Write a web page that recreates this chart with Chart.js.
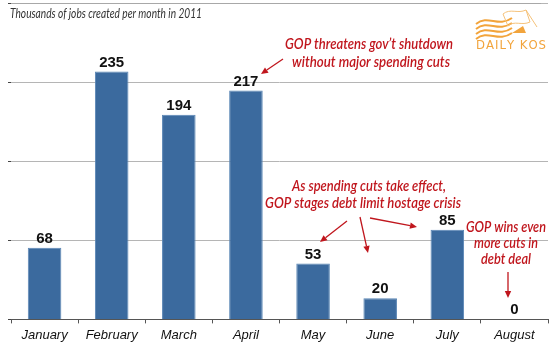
<!DOCTYPE html>
<html><head><meta charset="utf-8">
<script src="https://cdn.jsdelivr.net/npm/chart.js@4.4.1/dist/chart.umd.min.js"></script>
<style>html,body{margin:0;padding:0;background:#fff}canvas{display:block}</style>
</head><body>
<canvas id="c" width="550" height="350"></canvas>
<script>
const months = ["January","February","March","April","May","June","July","August"];
const jobs = [68, 235, 194, 217, 53, 20, 85, 0];
const yMax = 300;
const yStep = 75;
const titleText = "Thousands of jobs created per month in 2011";
const note1 = ["GOP threatens gov\u2019t shutdown", "without major spending cuts"];
const note2 = ["As spending cuts take effect,", "GOP stages debt limit hostage crisis"];
const note3 = ["GOP wins even", "more cuts in", "debt deal"];
const RED = '#c0161d';

// draw text at a given font size, squeezed horizontally to a target width
function fitText(ctx, txt, x, y, w, style, size, family, align) {
  ctx.save();
  ctx.font = style + ' ' + size + 'px ' + family;
  const nat = ctx.measureText(txt).width;
  const sx = w / nat;
  ctx.textAlign = 'left';
  let left = x;
  if (align === 'center') left = x - w / 2;
  ctx.translate(left, y);
  ctx.scale(sx, 1);
  ctx.fillText(txt, 0, 0);
  ctx.restore();
}
function arrow(ctx, x1, y1, x2, y2) {
  ctx.save();
  ctx.strokeStyle = RED; ctx.fillStyle = RED; ctx.lineWidth = 1.3;
  const a = Math.atan2(y2 - y1, x2 - x1);
  const hl = 7, hw = 3.2;
  const bx = x2 - hl * Math.cos(a), by = y2 - hl * Math.sin(a);
  ctx.beginPath(); ctx.moveTo(x1, y1); ctx.lineTo(bx, by); ctx.stroke();
  ctx.beginPath();
  ctx.moveTo(x2, y2);
  ctx.lineTo(bx + hw * Math.sin(a), by - hw * Math.cos(a));
  ctx.lineTo(bx - hw * Math.sin(a), by + hw * Math.cos(a));
  ctx.closePath(); ctx.fill();
  ctx.restore();
}

const deco = {
  id: 'deco',
  afterDraw(chart) {
    const ctx = chart.ctx;
    const meta = chart.getDatasetMeta(0);
    const ys = chart.scales.y;
    ctx.save();
    // top frame line at the scale maximum
    const ty = Math.max(2.5, Math.round(ys.getPixelForValue(yMax)) + 0.5);
    ctx.strokeStyle = '#a8a8a8'; ctx.lineWidth = 1.2;
    ctx.beginPath(); ctx.moveTo(chart.chartArea.left, ty); ctx.lineTo(541, ty); ctx.stroke();
    // value labels
    ctx.fillStyle = '#111';
    ctx.font = 'bold 15px "Liberation Sans", Arial, sans-serif';
    ctx.textAlign = 'center'; ctx.textBaseline = 'alphabetic';
    meta.data.forEach((b, i) => {
      ctx.fillText(String(jobs[i]), b.x, b.y - 5);
    });
    // title
    ctx.fillStyle = '#333';
    fitText(ctx, titleText, 10, 18, 192, 'italic', 12.5, 'Lato, sans-serif', 'left');
    // annotations
    ctx.fillStyle = RED;
    const fam = 'Lato, sans-serif';
    const st = 'italic 600';
    fitText(ctx, note1[0], 369, 49, 168, st, 15.5, fam, 'center');
    fitText(ctx, note1[1], 371, 67, 158, st, 15.5, fam, 'center');
    fitText(ctx, note2[0], 369, 191, 154, st, 15.5, fam, 'center');
    fitText(ctx, note2[1], 363, 208, 196, st, 15.5, fam, 'center');
    fitText(ctx, note3[0], 506, 232, 80, st, 15.5, fam, 'center');
    fitText(ctx, note3[1], 506, 248, 64, st, 15.5, fam, 'center');
    fitText(ctx, note3[2], 506, 264, 50, st, 15.5, fam, 'center');
    arrow(ctx, 283, 59, 261, 74);
    arrow(ctx, 347, 221, 320, 242);
    arrow(ctx, 360, 217, 368, 253);
    arrow(ctx, 370, 218, 417, 227);
    arrow(ctx, 508, 272, 508, 298);
    // logo
    ctx.strokeStyle = '#f2a43c'; ctx.lineWidth = 2;
    for (let k = 0; k < 4; k++) {
      ctx.beginPath();
      const y0 = 20 + k * 5;
      ctx.moveTo(476, y0 + 4);
      ctx.bezierCurveTo(488, y0 - 6, 498, y0 + 8, 512, y0 - 2);
      ctx.stroke();
    }
    ctx.lineWidth = 1;
    ctx.strokeStyle = '#f5c27a';
    ctx.beginPath();
    ctx.moveTo(503, 14); ctx.bezierCurveTo(510, 8, 518, 14, 526, 10);
    ctx.lineTo(530, 22); ctx.bezierCurveTo(522, 26, 514, 20, 508, 26);
    ctx.closePath(); ctx.stroke();
    ctx.beginPath(); ctx.moveTo(526, 10); ctx.lineTo(537, 27); ctx.stroke();
    ctx.fillStyle = '#f2a43c';
    ctx.beginPath(); ctx.moveTo(512, 33); ctx.lineTo(523, 26); ctx.lineTo(526, 33); ctx.closePath(); ctx.fill();
    ctx.textBaseline = 'alphabetic';
    ctx.font = '13px "DejaVu Sans Condensed", "Liberation Sans Narrow", sans-serif';
    ctx.textAlign = 'left';
    const logo = "DAILY KOS";
    let lx = 476;
    const total = 70;
    let w = 0; for (const ch of logo) w += ctx.measureText(ch).width;
    const sp = (total - w) / (logo.length - 1);
    for (const ch of logo) { ctx.fillText(ch, lx, 49); lx += ctx.measureText(ch).width + sp; }
    ctx.restore();
  }
};

new Chart(document.getElementById('c'), {
  type: 'bar',
  data: {
    labels: months,
    datasets: [{
      data: jobs,
      backgroundColor: '#3b6a9e',
      borderColor: '#5a86b5',
      borderWidth: 1,
      categoryPercentage: 1,
      barPercentage: 0.5
    }]
  },
  options: {
    responsive: false,
    animation: false,
    layout: { padding: { left: 8, right: 2, top: 3, bottom: 3 } },
    plugins: { legend: { display: false }, tooltip: { enabled: false } },
    scales: {
      x: {
        grid: { offset: true, drawOnChartArea: false, drawTicks: true, tickLength: 4, color: '#555' },
        border: { color: '#555', width: 1 },
        ticks: { color: '#111', font: { family: '"Liberation Sans", Arial, sans-serif', size: 13, style: 'italic' }, padding: 4 }
      },
      y: {
        min: 0, max: yMax,
        ticks: { display: false, stepSize: yStep },
        grid: { color: '#b5b5b5', drawTicks: true, tickLength: 3, tickColor: '#444' },
        border: { display: false }
      }
    }
  },
  plugins: [deco]
});
</script>
</body></html>
